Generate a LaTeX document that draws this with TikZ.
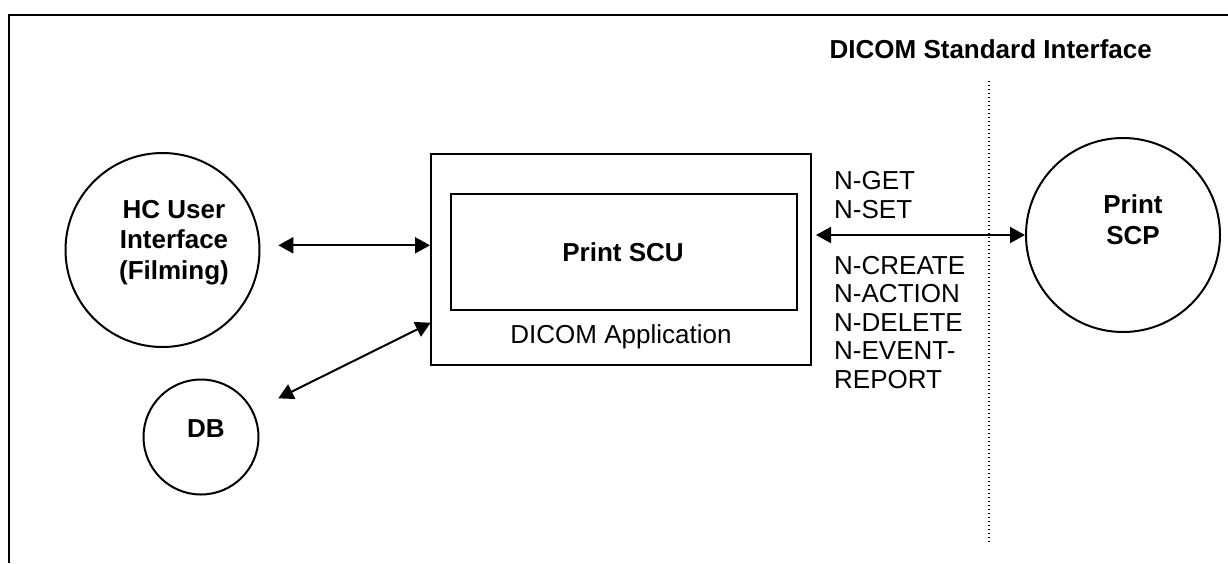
\documentclass[tikz,border=0pt]{standalone}
\usepackage{fontspec}
\setmainfont{Liberation Sans}
\usetikzlibrary{arrows.meta}
\begin{document}
\begin{tikzpicture}[x=1pt,y=-1pt,
  frame/.style={line width=2pt},
  circ/.style={draw, circle, line width=2pt, minimum size=194pt, inner sep=0pt},
  boxst/.style={draw, line width=2pt, inner sep=0pt},
  lbl/.style={font=\fontsize{26}{28.5}\selectfont, inner sep=0pt, align=left},
  bl/.style={font=\fontsize{26}{30.5}\selectfont\bfseries, inner sep=0pt, align=center},
  dbl/.style={line width=2pt, {Triangle[length=15pt,width=16pt]}-{Triangle[length=15pt,width=16pt]}},
  dotline/.style={line width=1.6pt, dash pattern=on 1.4pt off 2.6pt}
]
\useasboundingbox (0,0) rectangle (1228,563);
\draw[frame] (9,563) -- (9,15) -- (1228,15);

% title and interface line
\node[bl, anchor=base east] (title) at (1152,58) {DICOM Standard Interface};
\coordinate (dtop) at (988.7,81);
\coordinate (dbot) at (988.7,542);
\draw[dotline] (dtop) -- (dbot);

% circles (multi-line nodes: base = baseline of last line)
\node[circ] (hc) at (162.5,250) {};
\node[bl, anchor=base] (hctext) at (174,279) {HC User\\Interface\\(Filming)};
\node[circ, minimum size=115pt] (db) at (201,437) {};
\node[bl, anchor=base] (dbtext) at (206,437) {DB};
\node[circ] (scp) at (1123,235) {};
\node[bl, anchor=base] (scptext) at (1133,244) {Print\\SCP};

% application boxes
\node[boxst, minimum width=380pt, minimum height=211pt] (app) at (621,259.5) {};
\node[boxst, minimum width=346pt, minimum height=116pt] (scu) at (624,252) {};
\node[bl, anchor=base] (scutext) at (623,261) {Print SCU};
\node[lbl, anchor=base] (apptext) at (621,343) {DICOM Application};

% messages
\node[lbl, anchor=base west] (msg1) at (834,218.3) {N-GET\\N-SET};
\node[lbl, anchor=base west] (msg2) at (834,388) {N-CREATE\\N-ACTION\\N-DELETE\\N-EVENT-\\REPORT};

% connectors
\coordinate (hcend) at (278.3,245.3);
\draw[dbl] (hcend) -- (app.west |- hcend);
\coordinate (dbend) at (278.3,398.3);
\coordinate (appdb) at (430.7,322.7);
\draw[dbl] (dbend) -- (appdb);
\coordinate (scuend) at (816,235);
\draw[dbl] (scuend) -- (scp.west);
\end{tikzpicture}
\end{document}
